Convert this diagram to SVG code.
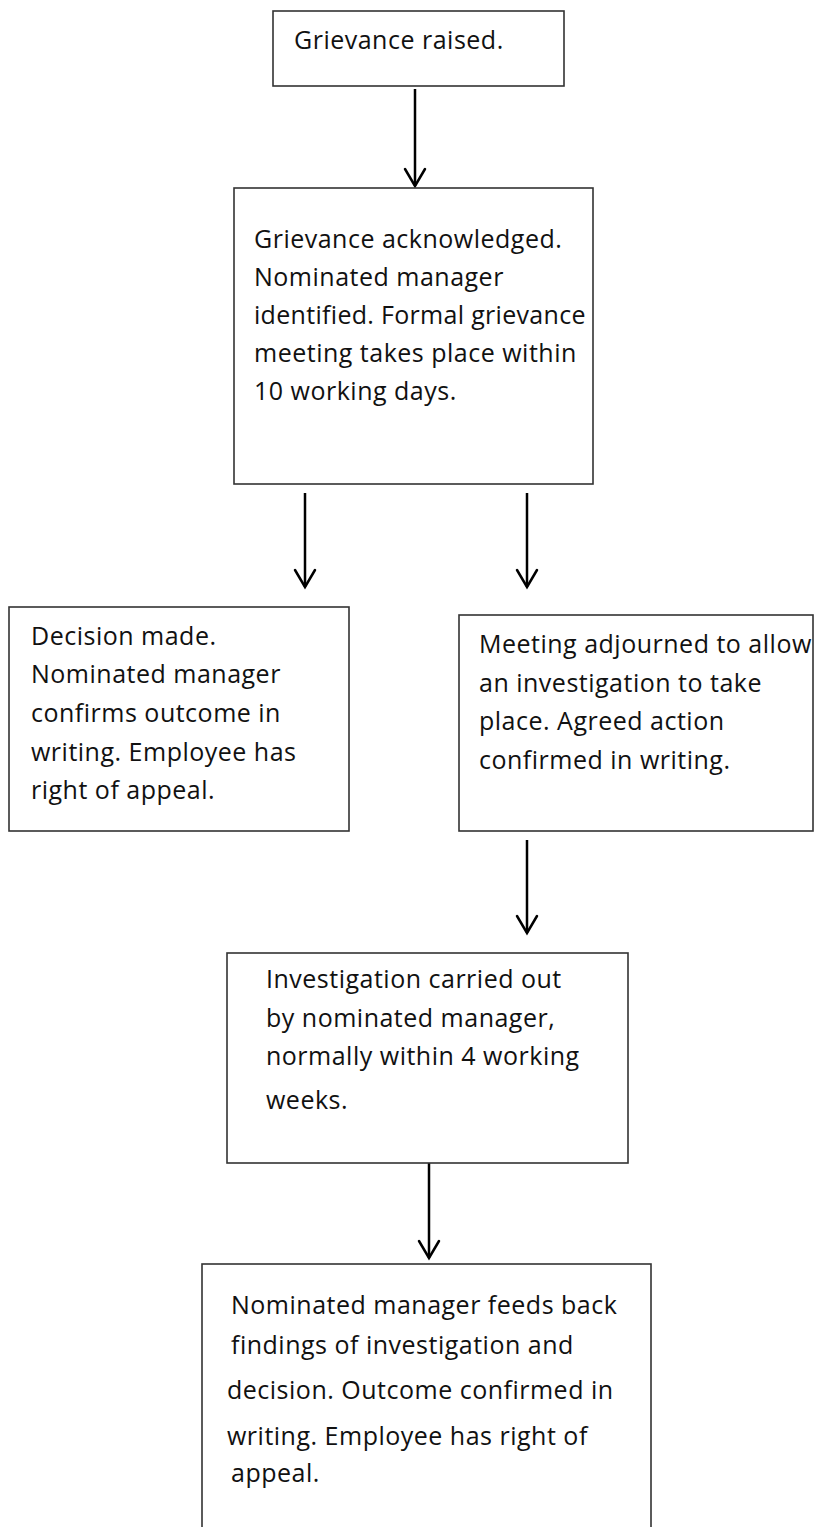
<svg xmlns="http://www.w3.org/2000/svg" width="821" height="1527" viewBox="0 0 821 1527">
<style>
.box{fill:#fff;stroke:#333;stroke-width:1.6}
.t{font-family:"Open Sans","Noto Sans","Liberation Sans",sans-serif;font-size:25px;letter-spacing:0.5px;fill:#111}
.c{stroke:#000;stroke-width:2.5;fill:none}
.h{stroke:#000;stroke-width:2.5;fill:none;stroke-linecap:round;stroke-linejoin:miter}
</style>
<rect width="821" height="1527" fill="#fff"/>
<g id="connectors">
<line class="c" x1="415" y1="89" x2="415" y2="186"/><polyline class="h" points="405,169 415,186 425,169"/>
<line class="c" x1="305" y1="493" x2="305" y2="587"/><polyline class="h" points="295,570 305,587 315,570"/>
<line class="c" x1="527" y1="493" x2="527" y2="587"/><polyline class="h" points="517,570 527,587 537,570"/>
<line class="c" x1="527" y1="840" x2="527" y2="933"/><polyline class="h" points="517,916 527,933 537,916"/>
<line class="c" x1="429" y1="1163" x2="429" y2="1258"/><polyline class="h" points="419,1241 429,1258 439,1241"/>
</g>
<g id="n1"><rect class="box" x="273" y="11" width="291" height="75"/>
<text class="t" x="294" y="49">Grievance raised.</text></g>
<g id="n2"><rect class="box" x="234" y="188" width="359" height="296"/>
<text class="t" x="254" y="248">Grievance acknowledged.</text>
<text class="t" x="254" y="286">Nominated manager</text>
<text class="t" x="254" y="324" textLength="332" lengthAdjust="spacing">identified. Formal grievance</text>
<text class="t" x="254" y="362">meeting takes place within</text>
<text class="t" x="254" y="400">10 working days.</text></g>
<g id="n3"><rect class="box" x="9" y="607" width="340" height="224"/>
<text class="t" x="31" y="645">Decision made.</text>
<text class="t" x="31" y="683">Nominated manager</text>
<text class="t" x="31" y="722">confirms outcome in</text>
<text class="t" x="31" y="761">writing. Employee has</text>
<text class="t" x="31" y="799">right of appeal.</text></g>
<g id="n4"><rect class="box" x="459" y="615" width="354" height="216"/>
<text class="t" x="479" y="653">Meeting adjourned to allow</text>
<text class="t" x="479" y="692">an investigation to take</text>
<text class="t" x="479" y="730">place. Agreed action</text>
<text class="t" x="479" y="769">confirmed in writing.</text></g>
<g id="n5"><rect class="box" x="227" y="953" width="401" height="210"/>
<text class="t" x="266" y="988">Investigation carried out</text>
<text class="t" x="266" y="1027">by nominated manager,</text>
<text class="t" x="266" y="1065">normally within 4 working</text>
<text class="t" x="266" y="1109">weeks.</text></g>
<g id="n6"><rect class="box" x="202" y="1264" width="449" height="280"/>
<text class="t" x="231" y="1314">Nominated manager feeds back</text>
<text class="t" x="231" y="1354">findings of investigation and</text>
<text class="t" x="227" y="1399">decision. Outcome confirmed in</text>
<text class="t" x="227" y="1445">writing. Employee has right of</text>
<text class="t" x="231" y="1482">appeal.</text></g>
</svg>
